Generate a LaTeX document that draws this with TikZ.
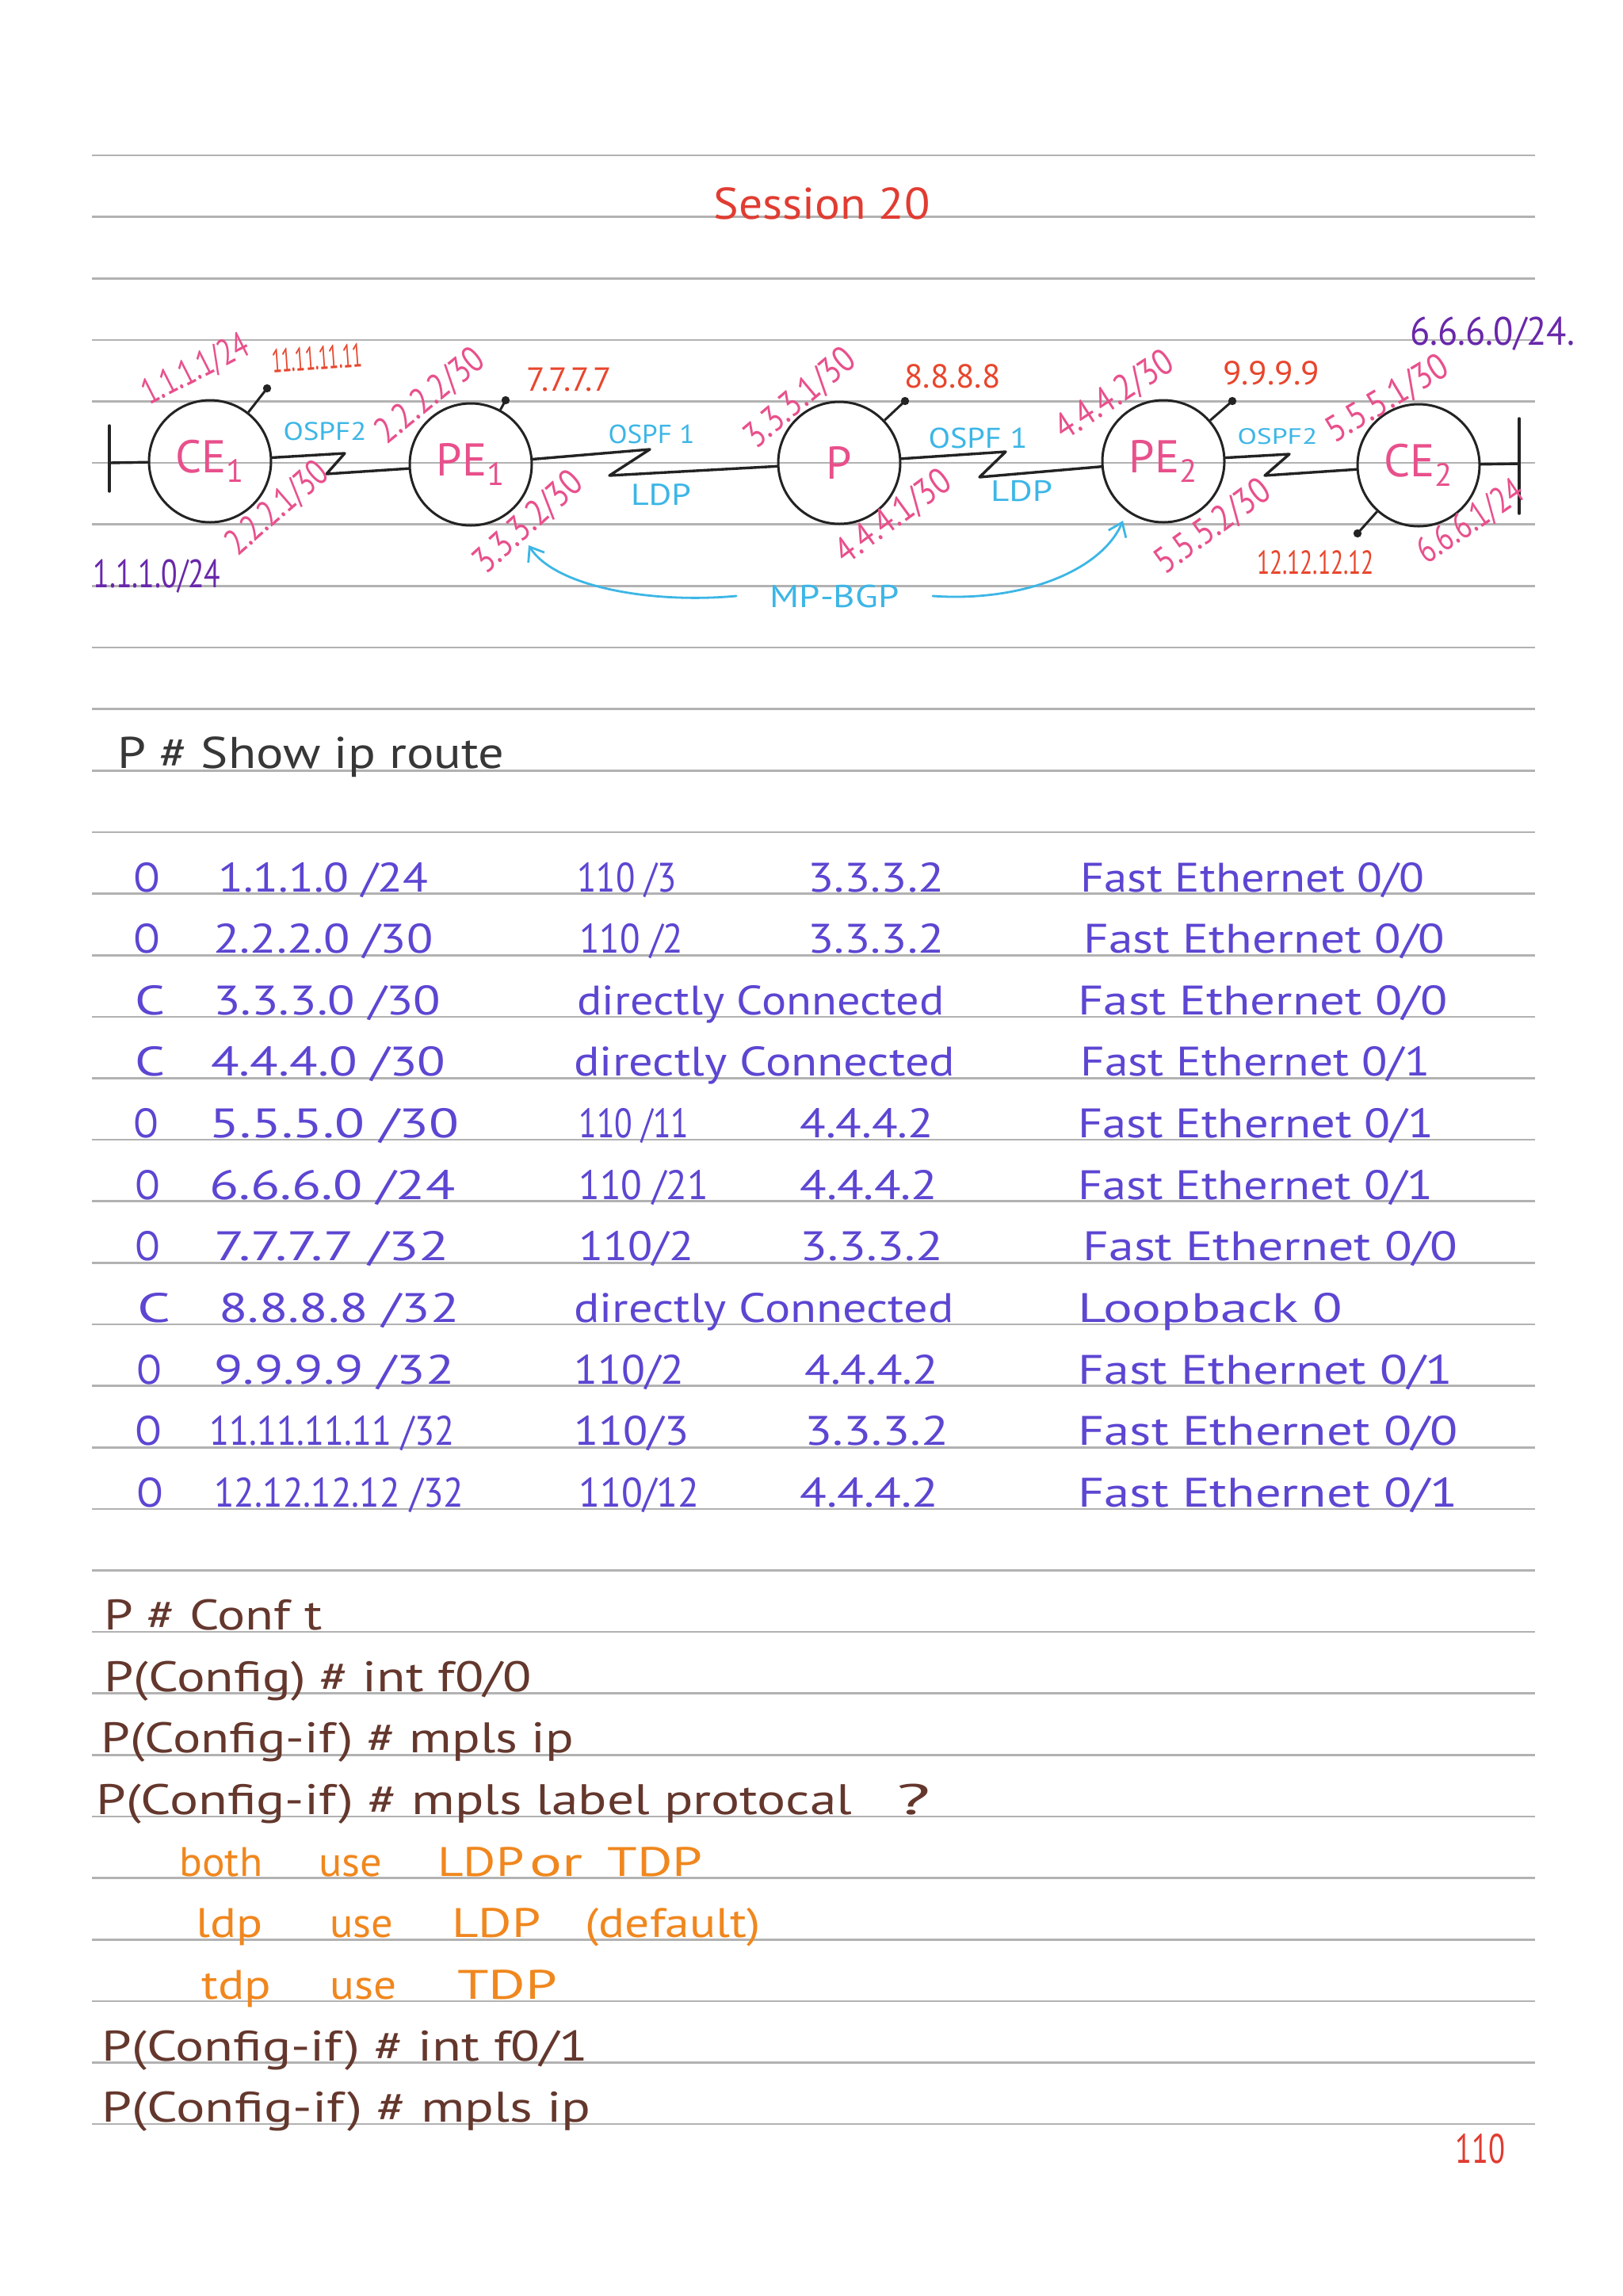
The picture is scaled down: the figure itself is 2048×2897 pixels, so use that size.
\documentclass[tikz,border=0pt]{standalone}
\usepackage{fontspec}
\usepackage{graphicx}
\setmainfont{PT Sans}
\usetikzlibrary{arrows.meta}
\newlength\pxu
\setlength\pxu{0.5pt}
\newcommand\fw[2]{\resizebox{#1\pxu}{\height}{#2}}
\definecolor{pinkc}{RGB}{232,80,140}
\definecolor{redc}{RGB}{232,70,45}
\definecolor{titlered}{RGB}{225,60,50}
\definecolor{cyanc}{RGB}{60,182,230}
\definecolor{purplec}{RGB}{105,40,170}
\definecolor{bluec}{RGB}{92,70,210}
\definecolor{brownc}{RGB}{100,55,45}
\definecolor{orangec}{RGB}{240,135,30}
\definecolor{headgray}{RGB}{55,55,55}
\definecolor{rulegray}{RGB}{178,178,178}
\definecolor{inkc}{RGB}{35,35,35}
\begin{document}
\begin{tikzpicture}[x=0.5pt,y=-0.5pt,
  rule/.style={draw=rulegray,line width=1.3pt},
  router/.style={circle,draw=inkc,line width=1.5pt,minimum size=77pt,inner sep=0pt,text=pinkc,font=\fontsize{29}{30}\selectfont},
  link/.style={draw=inkc,line width=1.7pt,line join=round,line cap=round},
  stub/.style={draw=inkc,line width=1.5pt},
  ip/.style={text=pinkc,inner sep=0pt,font=\fontsize{23}{26}\selectfont},
  lbl/.style={text=redc,inner sep=0pt,font=\fontsize{21}{24}\selectfont},
  proto/.style={text=cyanc,inner sep=0pt},
  net/.style={text=purplec,inner sep=0pt,font=\fontsize{25}{28}\selectfont},
  tab/.style={text=bluec,anchor=base west,inner sep=0pt,font=\fontsize{26}{30}\selectfont},
  cmd/.style={text=brownc,anchor=base west,inner sep=0pt,font=\fontsize{27}{30}\selectfont},
  opt/.style={text=orangec,anchor=base west,inner sep=0pt,font=\fontsize{26}{30}\selectfont},
  bgpline/.style={draw=cyanc,line width=1.4pt,line cap=round,-{Straight Barb[length=8pt,width=12pt,line width=1.4pt]}},
]
\useasboundingbox (0,0) rectangle (2048,2897);
\fill[white] (0,0) rectangle (2048,2897);
% ruled lines
\foreach \k in {0,...,32} {\draw[rule] (116,{196+77.63*\k}) -- (1937,{196+77.63*\k});}

% title
\node[text=titlered,inner sep=0pt,font=\fontsize{28}{30}\selectfont] (title) at (1037,257) {\fw{273}{Session 20}};

% routers
\node[router] (CE1) at (265,582) {CE\textsubscript{1}};
\node[router] (PE1) at (594,586) {PE\textsubscript{1}};
\node[router] (P) at (1059,584) {P};
\node[router] (PE2) at (1468,582) {PE\textsubscript{2}};
\node[router] (CE2) at (1790,587) {CE\textsubscript{2}};

% terminators
\coordinate (tL) at (138,584);
\coordinate (tLa) at (138,537);
\coordinate (tLb) at (138,620);
\coordinate (tR) at (1917,585);
\coordinate (tRa) at (1917,528);
\coordinate (tRb) at (1917,648);
\draw[link] (CE1) -- (tL);
\draw[link] (tLa) -- (tLb);
\draw[link] (CE2) -- (tR);
\draw[link] (tRa) -- (tRb);

% serial links
\coordinate (z1a) at (435,572); \coordinate (z1b) at (412,598);
\coordinate (z2a) at (820,567); \coordinate (z2b) at (769,600);
\coordinate (z3a) at (1269,570); \coordinate (z3b) at (1236,602);
\coordinate (z4a) at (1627,573); \coordinate (z4b) at (1596,600);
\draw[link] (CE1) -- (z1a) -- (z1b) -- (PE1);
\draw[link] (PE1) -- (z2a) -- (z2b) -- (P);
\draw[link] (P) -- (z3a) -- (z3b) -- (PE2);
\draw[link] (PE2) -- (z4a) -- (z4b) -- (CE2);

% loopback stubs
\coordinate (lb1) at (337,490);
\coordinate (lb2) at (638,505);
\coordinate (lb3) at (1142,506);
\coordinate (lb4) at (1555,506);
\coordinate (lb5) at (1713,673);
\draw[stub] (CE1) -- (lb1); \fill[inkc] (lb1) circle (2.6pt);
\draw[stub] (PE1) -- (lb2); \fill[inkc] (lb2) circle (2.6pt);
\draw[stub] (P) -- (lb3); \fill[inkc] (lb3) circle (2.6pt);
\draw[stub] (PE2) -- (lb4); \fill[inkc] (lb4) circle (2.6pt);
\draw[stub] (CE2) -- (lb5); \fill[inkc] (lb5) circle (2.6pt);

% loopback labels
\node[lbl,rotate=4] (l11) at (400,452) {\fw{114}{11.11.11.11}};
\node[lbl] (l7) at (718,479) {\fw{107}{7.7.7.7}};
\node[lbl] (l8) at (1202,475) {\fw{121}{8.8.8.8}};
\node[lbl] (l9) at (1604,471) {\fw{122}{9.9.9.9}};
\node[lbl] (l12) at (1660,710) {\fw{148}{12.12.12.12}};

% interface addresses
\node[ip,rotate=27] (a1) at (247,467) {\fw{145}{1.1.1.1/24}};
\node[ip,rotate=41] (a2) at (350,642) {\fw{155}{2.2.2.1/30}};
\node[ip,rotate=39] (a3) at (543,500) {\fw{162}{2.2.2.2/30}};
\node[ip,rotate=42] (a4) at (667,660) {\fw{168}{3.3.3.2/30}};
\node[ip,rotate=40] (a5) at (1010,503) {\fw{168}{3.3.3.1/30}};
\node[ip,rotate=36] (a6) at (1128,653) {\fw{168}{4.4.4.1/30}};
\node[ip,rotate=33] (a7) at (1407,500) {\fw{168}{4.4.4.2/30}};
\node[ip,rotate=31] (a8) at (1751,504) {\fw{172}{5.5.5.1/30}};
\node[ip,rotate=36] (a9) at (1531,665) {\fw{168}{5.5.5.2/30}};
\node[ip,rotate=34] (a10) at (1856,659) {\fw{152}{6.6.6.1/24}};

% networks
\node[net] (n1) at (198,727) {\fw{161}{1.1.1.0/24}};
\node[net] (n6) at (1883,421) {\fw{208}{6.6.6.0/24.}};

% protocols
\node[proto,font=\fontsize{16}{18}\selectfont] (o1) at (410,544) {\fw{105}{OSPF2}};
\node[proto,font=\fontsize{16.5}{18}\selectfont] (o2) at (822,548) {\fw{109}{OSPF 1}};
\node[proto,font=\fontsize{19}{20}\selectfont] (d1) at (834,624) {\fw{76}{LDP}};
\node[proto,font=\fontsize{18}{20}\selectfont] (o3) at (1234,553) {\fw{125}{OSPF 1}};
\node[proto,font=\fontsize{18.5}{20}\selectfont] (d2) at (1289,620) {\fw{78}{LDP}};
\node[proto,font=\fontsize{14}{16}\selectfont] (o4) at (1612,551) {\fw{101}{OSPF2}};
\node[proto,font=\fontsize{20}{22}\selectfont,inner xsep=21pt] (bgp) at (1053,752) {\fw{163}{MP-BGP}};
\coordinate (arrL) at (667,688);
\coordinate (arrR) at (1417,657);
\draw[bgpline] (bgp.west) .. controls (820,762) and (700,740) .. (arrL);
\draw[bgpline] (bgp.east) .. controls (1290,760) and (1390,720) .. (arrR);

% show ip route
\node[cmd,text=headgray,font=\fontsize{28}{30}\selectfont] (hdr) at (148,969) {\fw{488}{P \# Show ip route}};

\node[tab] (r1a) at (168,1125) {\fw{34}{O}};
\node[tab] (r1b) at (275,1125) {\fw{265}{1.1.1.0 /24}};
\node[tab] (r1c) at (728,1125) {\fw{125}{110 /3}};
\node[tab] (r1d) at (1019,1125) {\fw{172}{3.3.3.2}};
\node[tab] (r1e) at (1363,1125) {\fw{434}{Fast Ethernet 0/0}};

\node[tab] (r2a) at (168,1202) {\fw{34}{O}};
\node[tab] (r2b) at (269,1202) {\fw{277}{2.2.2.0 /30}};
\node[tab] (r2c) at (731,1202) {\fw{131}{110 /2}};
\node[tab] (r2d) at (1019,1202) {\fw{172}{3.3.3.2}};
\node[tab] (r2e) at (1367,1202) {\fw{456}{Fast Ethernet 0/0}};

\node[tab] (r3a) at (170,1280) {\fw{38}{C}};
\node[tab] (r3b) at (269,1280) {\fw{287}{3.3.3.0 /30}};
\node[tab] (r3c) at (728,1280) {\fw{463}{directly Connected}};
\node[tab] (r3e) at (1360,1280) {\fw{466}{Fast Ethernet 0/0}};

\node[tab] (r4a) at (170,1357) {\fw{38}{C}};
\node[tab] (r4b) at (266,1357) {\fw{296}{4.4.4.0 /30}};
\node[tab] (r4c) at (724,1357) {\fw{481}{directly Connected}};
\node[tab] (r4e) at (1363,1357) {\fw{441}{Fast Ethernet 0/1}};

\node[tab] (r5a) at (168,1435) {\fw{32}{O}};
\node[tab] (r5b) at (264,1435) {\fw{315}{5.5.5.0 /30}};
\node[tab] (r5c) at (730,1435) {\fw{139}{110 /11}};
\node[tab] (r5d) at (1009,1435) {\fw{169}{4.4.4.2}};
\node[tab] (r5e) at (1360,1435) {\fw{449}{Fast Ethernet 0/1}};

\node[tab] (r6a) at (170,1513) {\fw{32}{O}};
\node[tab] (r6b) at (264,1513) {\fw{310}{6.6.6.0 /24}};
\node[tab] (r6c) at (730,1513) {\fw{164}{110 /21}};
\node[tab] (r6d) at (1009,1513) {\fw{174}{4.4.4.2}};
\node[tab] (r6e) at (1360,1513) {\fw{448}{Fast Ethernet 0/1}};

\node[tab] (r7a) at (170,1590) {\fw{32}{O}};
\node[tab] (r7b) at (270,1590) {\fw{297}{7.7.7.7 /32}};
\node[tab] (r7c) at (730,1590) {\fw{145}{110/2}};
\node[tab] (r7d) at (1009,1590) {\fw{181}{3.3.3.2}};
\node[tab] (r7e) at (1366,1590) {\fw{473}{Fast Ethernet 0/0}};

\node[tab] (r8a) at (173,1668) {\fw{42}{C}};
\node[tab] (r8b) at (276,1668) {\fw{303}{8.8.8.8 /32}};
\node[tab] (r8c) at (724,1668) {\fw{479}{directly Connected}};
\node[tab] (r8e) at (1360,1668) {\fw{334}{Loopback 0}};

\node[tab] (r9a) at (172,1746) {\fw{32}{O}};
\node[tab] (r9b) at (270,1746) {\fw{303}{9.9.9.9 /32}};
\node[tab] (r9c) at (724,1746) {\fw{139}{110/2}};
\node[tab] (r9d) at (1015,1746) {\fw{169}{4.4.4.2}};
\node[tab] (r9e) at (1360,1746) {\fw{473}{Fast Ethernet 0/1}};

\node[tab] (r10a) at (170,1823) {\fw{34}{O}};
\node[tab] (r10b) at (264,1823) {\fw{309}{11.11.11.11 /32}};
\node[tab] (r10c) at (724,1823) {\fw{145}{110/3}};
\node[tab] (r10d) at (1015,1823) {\fw{182}{3.3.3.2}};
\node[tab] (r10e) at (1360,1823) {\fw{479}{Fast Ethernet 0/0}};

\node[tab] (r11a) at (172,1901) {\fw{34}{O}};
\node[tab] (r11b) at (270,1901) {\fw{315}{12.12.12.12 /32}};
\node[tab] (r11c) at (730,1901) {\fw{152}{110/12}};
\node[tab] (r11d) at (1009,1901) {\fw{175}{4.4.4.2}};
\node[tab] (r11e) at (1360,1901) {\fw{479}{Fast Ethernet 0/1}};

% configuration
\node[cmd] (c1) at (131,2056) {\fw{275}{P \# Conf t}};
\node[cmd] (c2) at (131,2134) {\fw{539}{P(Config) \# int f0/0}};
\node[cmd] (c3) at (127,2211) {\fw{597}{P(Config-if) \# mpls ip}};
\node[cmd] (c4) at (121,2289) {\fw{954}{P(Config-if) \# mpls label protocal}};
\node[cmd] (c4q) at (1131,2289) {\fw{43}{?}};

\node[opt] (o1a) at (226,2367) {\fw{105}{both}};
\node[opt] (o1b) at (402,2367) {\fw{80}{use}};
\node[opt] (o1c) at (552,2367) {\fw{109}{LDP}};
\node[opt] (o1d) at (668,2367) {\fw{67}{or}};
\node[opt] (o1e) at (766,2367) {\fw{120}{TDP}};

\node[opt] (o2a) at (247,2444) {\fw{84}{ldp}};
\node[opt] (o2b) at (416,2444) {\fw{80}{use}};
\node[opt] (o2c) at (570,2444) {\fw{112}{LDP}};
\node[opt] (o2d) at (738,2444) {\fw{221}{(default)}};

\node[opt] (o3a) at (254,2522) {\fw{88}{tdp}};
\node[opt] (o3b) at (416,2522) {\fw{84}{use}};
\node[opt] (o3c) at (577,2522) {\fw{126}{TDP}};

\node[cmd] (c5) at (128,2600) {\fw{614}{P(Config-if) \# int f0/1}};
\node[cmd] (c6) at (128,2677) {\fw{617}{P(Config-if) \# mpls ip}};

% page number
\node[text=titlered,inner sep=0pt,font=\fontsize{26}{28}\selectfont] (pg) at (1868,2711) {\fw{63}{110}};
\end{tikzpicture}
\end{document}
